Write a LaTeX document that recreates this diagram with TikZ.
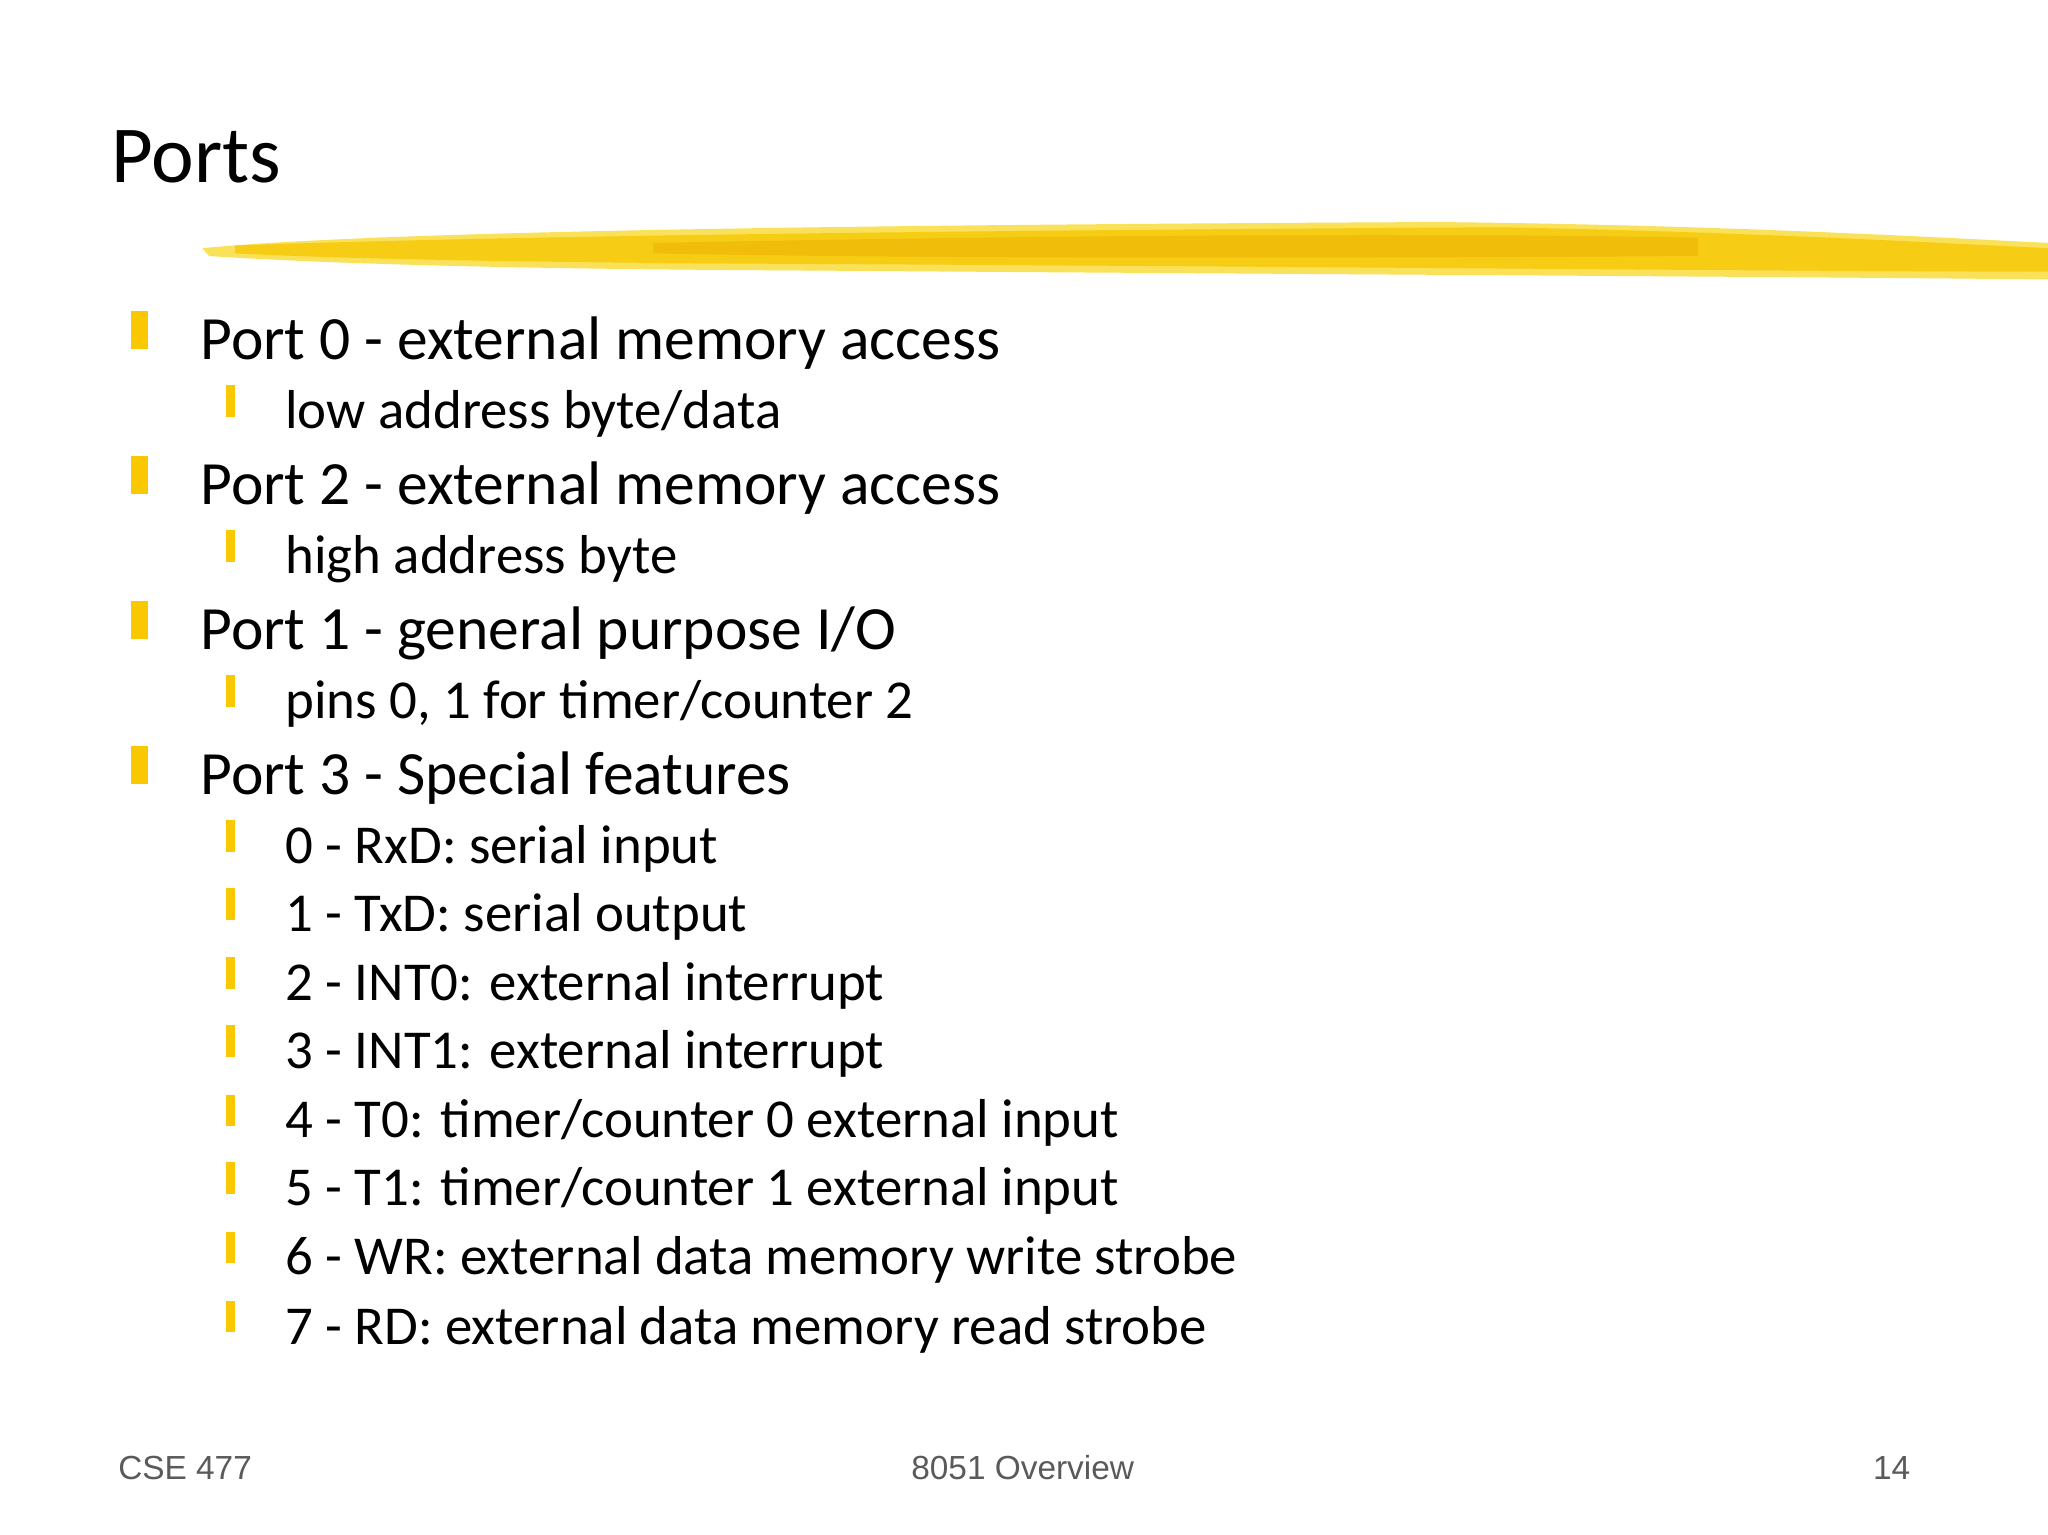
\documentclass[tikz,border=0pt]{standalone}
\usepackage{fontspec}
\setmainfont{Carlito}
\newfontfamily\footfont{Liberation Sans}
\definecolor{hl}{RGB}{247,204,20}
\definecolor{hlc}{RGB}{240,190,10}
\definecolor{hll}{RGB}{250,225,90}
\definecolor{bul}{RGB}{250,200,0}
\definecolor{foot}{RGB}{90,90,90}
\begin{document}
\begin{tikzpicture}[x=0.01306cm,y=-0.01306cm,
  mainitem/.style={anchor=base west,inner sep=0pt,font=\fontsize{17.5}{20}\selectfont},
  subitem/.style={anchor=base west,inner sep=0pt,font=\fontsize{15.6}{18}\selectfont},
  footer/.style={inner sep=0pt,text=foot,font=\footfont\fontsize{9.5}{11}\selectfont}]
\useasboundingbox (0,0) rectangle (1568,1175);
% brush stroke
\fill[hll] (155,190) .. controls (300,176) and (700,172) .. (1100,170) .. controls (1300,172) and (1450,180) .. (1568,186) -- (1568,214) .. controls (1400,212) and (1000,210) .. (600,207) .. controls (400,206) and (250,202) .. (160,196) -- cycle;
\fill[hl] (180,188) .. controls (400,180) and (800,176) .. (1150,174) .. controls (1350,178) and (1480,186) .. (1568,190) -- (1568,208) .. controls (1400,208) and (1000,204) .. (600,202) .. controls (400,201) and (260,198) .. (180,194) -- cycle;
\fill[hlc] (500,186) .. controls (800,180) and (1100,178) .. (1300,182) -- (1300,196) .. controls (1000,198) and (700,198) .. (500,194) -- cycle;
\node[anchor=base west,inner sep=0pt,font=\fontsize{23}{26}\selectfont] (title) at (85,140) {Ports};
% main bullets
\foreach \b/\t/\n in {275/{Port 0 - external memory access}/m1,386/{Port 2 - external memory access}/m2,497/{Port 1 - general purpose I/O}/m3,608/{Port 3 - Special features}/m4}{
  \fill[bul] (100,\b-37) rectangle (113,\b-8);
  \node[mainitem] (\n) at (153,\b) {\t};
}
\foreach \b/\t/\n in {328/{low address byte/data}/s1,439/{high address byte}/s2,550/{pins 0, 1 for timer/counter 2}/s3,
  661/{0 - RxD: serial input}/s4,713/{1 - TxD: serial output}/s5,766/{2 - INT0: external interrupt}/s6,818/{3 - INT1: external interrupt}/s7,
  871/{4 - T0: timer/counter 0 external input}/s8,923/{5 - T1: timer/counter 1 external input}/s9,976/{6 - WR: external data memory write strobe}/s10,1029/{7 - RD: external data memory read strobe}/s11}{
  \fill[bul] (173,\b-33) rectangle (180,\b-9);
  \node[subitem] (\n) at (218,\b) {\t};
}
\node[footer,anchor=base west] (f1) at (90,1133) {CSE 477};
\node[footer,anchor=base] (f2) at (783,1133) {8051 Overview};
\node[footer,anchor=base east] (f3) at (1463,1133) {14};
\end{tikzpicture}
\end{document}
